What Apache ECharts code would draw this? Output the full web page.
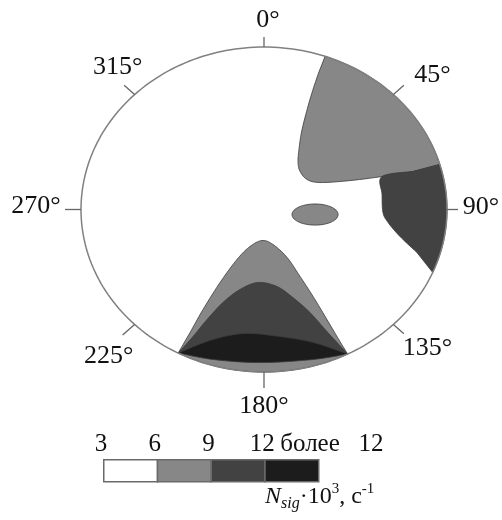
<!DOCTYPE html>
<html><head><meta charset="utf-8">
<script src="https://cdn.jsdelivr.net/npm/echarts/dist/echarts.min.js"></script>
<style>html,body{margin:0;padding:0;background:#fff}#c{width:502px;height:520px}</style>
</head><body><div id="c"></div><script>
// ---- data ----
// azimuth ticks (degrees, clockwise from top)
var angleTicks = [0, 45, 90, 135, 180, 225, 270, 315];
var angleLabels = ['0°', '45°', '90°', '135°', '180°', '225°', '270°', '315°'];
// level classes of N_sig·10^3, c^-1
var levelNames = ['3', '6', '9', '12', 'более 12'];
var levelColors = ['#ffffff', '#878787', '#424242', '#1c1c1c'];
// boundaries in units of the plot radius (x: towards 90°, y: towards 0°)
var edgeA = [[0.814,0.234],[0.645,0.203],[0.470,0.178],[0.306,0.166],[0.235,0.185],[0.197,0.234],[0.186,0.289],[0.191,0.369],[0.208,0.492],[0.251,0.677],[0.295,0.831]];
var arcA = [19.5, 73.9];
var edgeB = [[0.814,0.234],[0.645,0.203],[0.645,0.092],[0.650,-0.018],[0.678,-0.080],[0.743,-0.166],[0.836,-0.265]];
var arcB = [112.8, 73.9];
var edgeC = [[-0.469,-0.883],[-0.404,-0.757],[-0.333,-0.615],[-0.240,-0.449],[-0.148,-0.308],[-0.077,-0.228],[-0.011,-0.191],[0.049,-0.215],[0.126,-0.295],[0.197,-0.412],[0.268,-0.535],[0.344,-0.677],[0.415,-0.812],[0.457,-0.889]];
var arcC = [152.8, 208];
var edgeD = [[-0.469,-0.883],[-0.388,-0.782],[-0.311,-0.677],[-0.224,-0.572],[-0.131,-0.492],[-0.033,-0.449],[0.071,-0.474],[0.158,-0.542],[0.251,-0.634],[0.344,-0.751],[0.457,-0.889]];
var edgeETop = [[-0.469,-0.883],[-0.279,-0.800],[-0.104,-0.763],[0.087,-0.782],[0.268,-0.818],[0.457,-0.889]];
var edgeEBottom = [[0.457,-0.889],[0.268,-0.923],[-0.022,-0.942],[-0.279,-0.923],[-0.469,-0.883]];
var spotCenter = [0.279, -0.031];
var spotRadii = [0.126, 0.065];
var spotLevel = 1;

// ---- build regions ----
var regions = [
  {level: 1, parts: [{c: edgeA}, {a: arcA}]},
  {level: 2, parts: [{c: edgeB}, {a: arcB}]},
  {level: 1, parts: [{c: edgeC}, {a: arcC}]},
  {level: 2, parts: [{c: edgeD}]},
  {level: 3, parts: [{c: edgeETop}, {c: edgeEBottom}]}
];
var FONT = '"Liberation Serif","Times New Roman",serif';
// label offsets in pixels from the rim point (layout only)
var labelOffsets = [[4,-27],[39,-19],[34,-2],[34,24],[0,34],[-26,32],[-45,-3],[-17,-27]];
var tickLens = [10, 14, 11, 14, 16, 16, 16, 14];

var items = [];
items.push([0, 0, -1]); // background disk
regions.forEach(function (r, i) { items.push([0, 0, i]); });
items.push([0, 0, 100]); // spot
items.push([0, 0, 200]); // rim, ticks, labels

function renderItem(params, api) {
  var k = api.value(2);
  function P(x, y) { return api.coord([x, y]); }
  function arcPts(a, b) {
    var n = Math.max(2, Math.ceil(Math.abs(b - a) / 1.5)), out = [];
    for (var i = 0; i <= n; i++) {
      var t = (a + (b - a) * i / n) * Math.PI / 180;
      out.push(P(Math.sin(t), Math.cos(t)));
    }
    return out;
  }
  function curvePts(pts) {
    var px = pts.map(function (p) { return P(p[0], p[1]); }), out = [];
    for (var i = 0; i < px.length - 1; i++) {
      var p0 = px[i - 1] || px[i], p1 = px[i], p2 = px[i + 1], p3 = px[i + 2] || px[i + 1];
      for (var s = 0; s < 10; s++) {
        var t = s / 10, t2 = t * t, t3 = t2 * t;
        out.push([
          0.5 * ((2 * p1[0]) + (-p0[0] + p2[0]) * t + (2 * p0[0] - 5 * p1[0] + 4 * p2[0] - p3[0]) * t2 + (-p0[0] + 3 * p1[0] - 3 * p2[0] + p3[0]) * t3),
          0.5 * ((2 * p1[1]) + (-p0[1] + p2[1]) * t + (2 * p0[1] - 5 * p1[1] + 4 * p2[1] - p3[1]) * t2 + (-p0[1] + 3 * p1[1] - 3 * p2[1] + p3[1]) * t3)
        ]);
      }
    }
    out.push(px[px.length - 1]);
    return out;
  }
  if (k === -1) {
    return {type: 'polygon', z2: 0, shape: {points: arcPts(0, 360)}, style: {fill: '#ffffff', stroke: 'none'}};
  }
  if (k >= 0 && k < regions.length) {
    var r = regions[k], pts = [];
    r.parts.forEach(function (p) { pts = pts.concat(p.c ? curvePts(p.c) : arcPts(p.a[0], p.a[1])); });
    return {type: 'polygon', z2: 10 + k, shape: {points: pts},
      style: {fill: levelColors[r.level], stroke: '#3a3a3a', lineWidth: 0.8}};
  }
  if (k === 100) {
    var sp = [];
    for (var j = 0; j <= 72; j++) {
      var t = j * 5 * Math.PI / 180;
      sp.push(P(spotCenter[0] + spotRadii[0] * Math.cos(t), spotCenter[1] + spotRadii[1] * Math.sin(t)));
    }
    return {type: 'polygon', z2: 30, shape: {points: sp}, style: {fill: levelColors[spotLevel], stroke: '#3a3a3a', lineWidth: 0.8}};
  }
  // rim, ticks and labels
  var c0 = P(0, 0), children = [];
  children.push({type: 'polygon', z2: 40, shape: {points: arcPts(0, 360)}, style: {fill: 'none', stroke: '#808080', lineWidth: 1.5}});
  angleTicks.forEach(function (a, i) {
    var t = a * Math.PI / 180, p = P(Math.sin(t), Math.cos(t));
    var dx = p[0] - c0[0], dy = p[1] - c0[1], L = Math.sqrt(dx * dx + dy * dy);
    dx /= L; dy /= L;
    children.push({type: 'line', z2: 41, shape: {x1: p[0], y1: p[1], x2: p[0] + dx * tickLens[i], y2: p[1] + dy * tickLens[i]},
      style: {stroke: '#666666', lineWidth: 1.3}});
    children.push({type: 'text', z2: 42, x: p[0] + labelOffsets[i][0], y: p[1] + labelOffsets[i][1],
      style: {text: angleLabels[i], font: '26px ' + FONT, fill: '#111', align: 'center', verticalAlign: 'middle'}});
  });
  return {type: 'group', children: children};
}

// legend graphic built from the level arrays
var legX = 103, legY = 459, cellW = 53.75, cellH = 22;
var graphic = [];
levelColors.forEach(function (col, i) {
  graphic.push({type: 'rect', left: legX + i * cellW, top: legY, shape: {width: cellW, height: cellH},
    style: {fill: col, stroke: '#6a6a6a', lineWidth: 1.5}});
});
levelNames.forEach(function (name, i) {
  var last = i === levelNames.length - 1;
  graphic.push({type: 'text', x: last ? legX + 3 * cellW + 16 : legX + i * cellW - 2, y: 444,
    style: {text: last ? 'более\u2002 12' : name, font: '25px ' + FONT, fill: '#111', align: last ? 'left' : 'center', verticalAlign: 'middle'}});
});
graphic.push({type: 'text', x: 265, y: 482,
  style: {text: '{n|N}{s|sig}{t|·10}{p|3}{t|, с}{p|-1}', verticalAlign: 'top', align: 'left',
    rich: {
      n: {font: 'italic 24px ' + FONT, fill: '#111', lineHeight: 30, verticalAlign: 'middle'},
      s: {font: 'italic 16px ' + FONT, fill: '#111', lineHeight: 14, verticalAlign: 'bottom'},
      t: {font: '24px ' + FONT, fill: '#111', lineHeight: 30, verticalAlign: 'middle'},
      p: {font: '15px ' + FONT, fill: '#111', lineHeight: 16, verticalAlign: 'top'}
    }}});

var chart = echarts.init(document.getElementById('c'));
chart.setOption({
  animation: false,
  backgroundColor: '#fff',
  grid: {left: 81, top: 47, width: 366, height: 325, show: false},
  xAxis: {type: 'value', min: -1, max: 1, show: false},
  yAxis: {type: 'value', min: -1, max: 1, show: false},
  graphic: graphic,
  series: [{
    type: 'custom', coordinateSystem: 'cartesian2d', clip: false, silent: true,
    renderItem: renderItem, data: items
  }]
});
</script></body></html>
